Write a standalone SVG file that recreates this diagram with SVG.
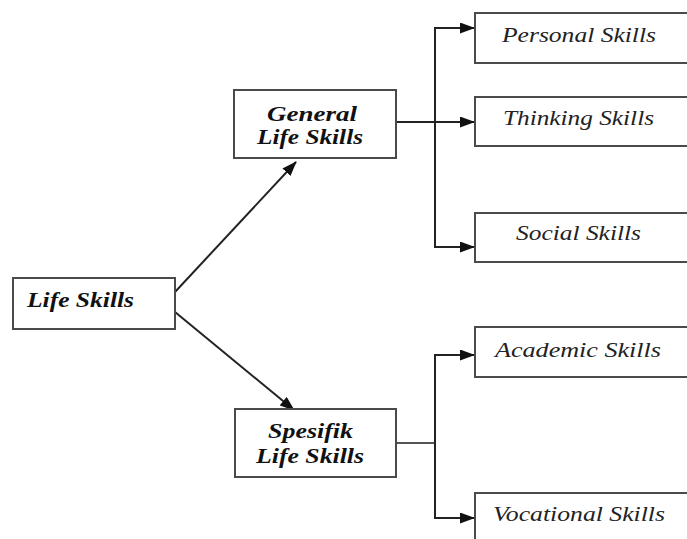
<svg xmlns="http://www.w3.org/2000/svg" width="687" height="539" viewBox="0 0 687 539">
<style>
.box{fill:#fff;stroke:#4a4a4a;stroke-width:2}
.b{font-family:"Liberation Serif","Times New Roman",serif;font-weight:bold;font-style:italic;font-size:22px;fill:#111}
.n{font-family:"Liberation Serif","Times New Roman",serif;font-style:italic;font-size:21px;fill:#222}
.ln{stroke:#222;stroke-width:2;fill:none}
</style>
<defs>
<marker id="ah" markerUnits="userSpaceOnUse" markerWidth="15" markerHeight="11" refX="14" refY="5.5" orient="auto">
<path d="M0,0 L15,5.5 L0,11 Z" fill="#111"/>
</marker>
</defs>
<rect width="687" height="539" fill="#fff"/>
<g id="connectors">
<line class="ln" x1="175" y1="292" x2="296" y2="162" marker-end="url(#ah)"/>
<line class="ln" x1="175" y1="312" x2="294" y2="410" marker-end="url(#ah)"/>
<line class="ln" x1="396" y1="122" x2="474" y2="122" marker-end="url(#ah)"/>
<polyline class="ln" points="474,28 435,28 435,247 474,247" marker-end="url(#ah)"/>
<line class="ln" x1="435" y1="28" x2="474" y2="28" marker-end="url(#ah)"/>
<line class="ln" x1="396" y1="443" x2="435" y2="443" style="stroke:#555"/>
<polyline class="ln" points="474,355 435,355 435,518 474,518" marker-end="url(#ah)"/>
<line class="ln" x1="435" y1="355" x2="474" y2="355" marker-end="url(#ah)"/>
</g>
<g id="life-skills">
<rect class="box" x="13" y="278" width="162" height="51"/>
<text class="b" x="27" y="307" textLength="107" lengthAdjust="spacingAndGlyphs">Life Skills</text>
</g>
<g id="general-life-skills">
<rect class="box" x="234" y="90" width="162" height="68"/>
<text class="b" x="267" y="121" textLength="90" lengthAdjust="spacingAndGlyphs">General</text>
<text class="b" x="257" y="144" textLength="106" lengthAdjust="spacingAndGlyphs">Life Skills</text>
</g>
<g id="spesifik-life-skills">
<rect class="box" x="235" y="409" width="161" height="68"/>
<text class="b" x="268" y="438" textLength="85" lengthAdjust="spacingAndGlyphs">Spesifik</text>
<text class="b" x="256" y="463" textLength="108" lengthAdjust="spacingAndGlyphs">Life Skills</text>
</g>
<g id="personal-skills">
<rect class="box" x="475" y="13" width="240" height="50"/>
<text class="n" x="502" y="42" textLength="154" lengthAdjust="spacingAndGlyphs">Personal Skills</text>
</g>
<g id="thinking-skills">
<rect class="box" x="475" y="97" width="240" height="49"/>
<text class="n" x="503" y="125" textLength="151" lengthAdjust="spacingAndGlyphs">Thinking Skills</text>
</g>
<g id="social-skills">
<rect class="box" x="475" y="213" width="240" height="49"/>
<text class="n" x="516" y="240" textLength="125" lengthAdjust="spacingAndGlyphs">Social Skills</text>
</g>
<g id="academic-skills">
<rect class="box" x="475" y="327" width="240" height="50"/>
<text class="n" x="495" y="357" textLength="166" lengthAdjust="spacingAndGlyphs">Academic Skills</text>
</g>
<g id="vocational-skills">
<rect class="box" x="475" y="493" width="240" height="60"/>
<text class="n" x="493" y="521" textLength="172" lengthAdjust="spacingAndGlyphs">Vocational Skills</text>
</g>
</svg>
